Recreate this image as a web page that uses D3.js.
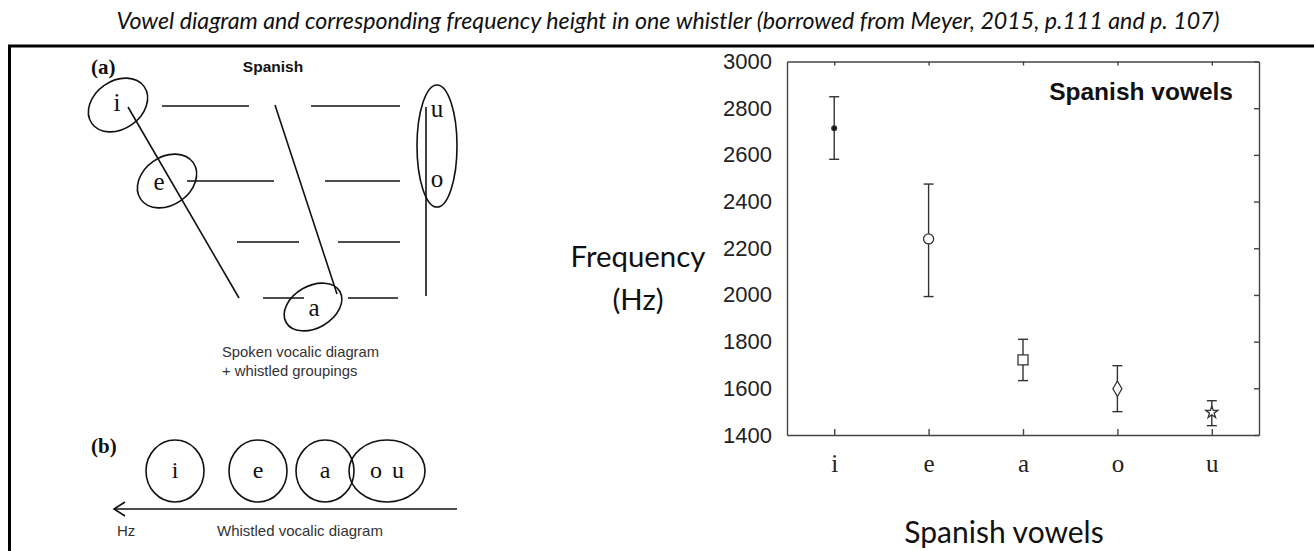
<!DOCTYPE html>
<html>
<head>
<meta charset="utf-8">
<script src="https://cdn.jsdelivr.net/npm/d3@7"></script>
<style>
    body { margin: 0; background: #fff; }
    svg { display: block; }
    .panel-text { font-family: "Liberation Sans", Arial, sans-serif; fill: #333; }
    .serif { font-family: "Liberation Serif", "Times New Roman", serif; fill: #111; }
</style>
</head>
<body>
<svg id="fig" width="1314" height="551"></svg>
<script>
"use strict";

// ---- data ----
const vowels = ["i", "e", "a", "o", "u"];
const meanHz = [2714, 2240, 1722, 1598, 1497];
const upperHz = [2849, 2475, 1810, 1697, 1547];
const lowerHz = [2581, 1993, 1633, 1500, 1440];
const markers = ["dot", "circle", "square", "diamond", "star"];
const yTicks = [1400, 1600, 1800, 2000, 2200, 2400, 2600, 2800, 3000];

// whistled groupings, panel (b)
const whistledGroups = ["i", "e", "a", "o u"];

const svg = d3.select("#fig");
const W = +svg.attr("width");

// title + frame
svg.append("text")
    .attr("x", W / 2 + 11)
    .attr("y", 29)
    .attr("text-anchor", "middle")
    .style("font-family", "Lato, 'Open Sans', sans-serif")
    .style("font-style", "italic")
    .style("font-size", "23.2px")
    .style("fill", "#111")
    .text("Vowel diagram and corresponding frequency height in one whistler (borrowed from Meyer, 2015, p.111 and p. 107)");

svg.append("line").attr("x1", 8).attr("x2", W).attr("y1", 46).attr("y2", 46)
    .style("stroke", "#000").style("stroke-width", 3);
svg.append("line").attr("x1", 9.5).attr("x2", 9.5).attr("y1", 45).attr("y2", 551)
    .style("stroke", "#000").style("stroke-width", 3);

// ---- left: vowel diagram (a) ----
const left = svg.append("g").attr("class", "left");
const ink = { stroke: "#111", "stroke-width": 1.6, fill: "none" };
const applyInk = sel => { Object.entries(ink).forEach(([k, v]) => sel.style(k, v)); return sel; };

left.append("text").attr("class", "serif").attr("x", 91).attr("y", 74)
    .style("font-size", "21px").style("font-weight", "bold").text("(a)");
left.append("text").attr("class", "panel-text").attr("x", 273).attr("y", 72)
    .attr("text-anchor", "middle").style("font-size", "15.5px").style("font-weight", "bold")
    .style("fill", "#111").text("Spanish");

// trapezoid strokes
const segs = [
    [128, 107, 239, 298], [275, 105, 337, 294], [426, 107, 426, 296],
    [162, 106, 249, 106], [311, 106, 400, 106],
    [187, 181, 274, 181], [325, 181, 400, 181],
    [237, 242, 299, 242], [338, 242, 400, 242],
    [263, 298, 304, 298], [348, 298, 398, 298]
];
applyInk(left.selectAll(".seg").data(segs).enter().append("line")
    .attr("class", "seg")
    .attr("x1", d => d[0]).attr("y1", d => d[1])
    .attr("x2", d => d[2]).attr("y2", d => d[3]));

const rings = [
    { cx: 118, cy: 105, rx: 32, ry: 24, rot: -35 },
    { cx: 167, cy: 181, rx: 32, ry: 24, rot: -35 },
    { cx: 313, cy: 307, rx: 31, ry: 21, rot: -30 },
    { cx: 437, cy: 146, rx: 20, ry: 61, rot: 0 }
];
applyInk(left.selectAll(".ring").data(rings).enter().append("ellipse")
    .attr("class", "ring")
    .attr("rx", d => d.rx).attr("ry", d => d.ry)
    .attr("transform", d => "translate(" + d.cx + "," + d.cy + ") rotate(" + d.rot + ")"));

const spoken = [["i", 117, 111], ["e", 159, 190], ["a", 314, 316], ["u", 437, 117], ["o", 437, 187]];
left.selectAll(".sv").data(spoken).enter().append("text")
    .attr("class", "serif sv")
    .attr("x", d => d[1]).attr("y", d => d[2])
    .attr("text-anchor", "middle")
    .style("font-size", "25px")
    .text(d => d[0]);

left.append("text").attr("class", "panel-text").attr("x", 222).attr("y", 357)
    .style("font-size", "14.8px").text("Spoken vocalic diagram");
left.append("text").attr("class", "panel-text").attr("x", 222).attr("y", 376)
    .style("font-size", "14.8px").text("+ whistled groupings");

// ---- left: whistled diagram (b) ----
left.append("text").attr("class", "serif").attr("x", 91).attr("y", 453)
    .style("font-size", "21px").style("font-weight", "bold").text("(b)");

const bubbles = [
    { cx: 175, rx: 29 }, { cx: 258, rx: 29 }, { cx: 325, rx: 29 }, { cx: 387, rx: 38 }
];
applyInk(left.selectAll(".bub").data(bubbles).enter().append("ellipse")
    .attr("class", "bub")
    .attr("cx", d => d.cx).attr("cy", 471)
    .attr("rx", d => d.rx).attr("ry", 31));
left.selectAll(".bl").data(whistledGroups).enter().append("text")
    .attr("class", "serif bl")
    .attr("x", (d, i) => bubbles[i].cx)
    .attr("y", 478)
    .attr("text-anchor", "middle")
    .style("font-size", "24px")
    .style("word-spacing", "4px")
    .text(d => d);

applyInk(left.append("line").attr("x1", 114).attr("x2", 457).attr("y1", 509).attr("y2", 509));
applyInk(left.append("path").attr("d", "M125,502 L114,509 L125,516"));
left.append("text").attr("class", "panel-text").attr("x", 117).attr("y", 536)
    .style("font-size", "15px").text("Hz");
left.append("text").attr("class", "panel-text").attr("x", 217).attr("y", 536)
    .style("font-size", "15px").text("Whistled vocalic diagram");

// ---- right: frequency plot ----
const plot = { left: 787, right: 1259, top: 61.5, bottom: 435 };

const x = d3.scalePoint().domain(vowels).range([plot.left, plot.right]).padding(0.5);
const y = d3.scaleLinear().domain([1400, 3000]).range([plot.bottom, plot.top]);

const axisColor = "#444";
const styleAxis = g => {
    g.selectAll("path, line").style("stroke", axisColor).style("stroke-width", 1.4);
    return g;
};

// left axis with labels
const gl = svg.append("g").attr("transform", "translate(" + plot.left + ",0)")
    .call(d3.axisLeft(y).tickValues(yTicks).tickFormat(d3.format("d"))
        .tickSize(0).tickPadding(15).tickSizeOuter(0));
styleAxis(gl);
gl.selectAll("text").style("font-family", "'Liberation Sans', Arial, sans-serif")
    .style("font-size", "22px").style("fill", "#222");

// right axis, inward ticks
styleAxis(svg.append("g").attr("transform", "translate(" + plot.right + ",0)")
    .call(d3.axisLeft(y).tickValues(yTicks).tickSize(5).tickSizeOuter(0).tickFormat("")));

// top axis, inward ticks
styleAxis(svg.append("g").attr("transform", "translate(0," + plot.top + ")")
    .call(d3.axisBottom(x).tickSize(4).tickSizeOuter(0).tickFormat("")));

// bottom axis, inward ticks + serif labels
styleAxis(svg.append("g").attr("transform", "translate(0," + plot.bottom + ")")
    .call(d3.axisTop(x).tickSize(6).tickSizeOuter(0).tickFormat("")));
const gb = svg.append("g").attr("transform", "translate(0," + plot.bottom + ")")
    .call(d3.axisBottom(x).tickSize(0).tickPadding(19));
gb.select(".domain").remove();
gb.selectAll("text").style("font-family", "'Liberation Serif', 'Times New Roman', serif")
    .style("font-size", "25px").style("fill", "#222");

// error bars
const rows = vowels.map((v, i) => ({ v: v, mean: meanHz[i], hi: upperHz[i], lo: lowerHz[i], m: markers[i] }));
const bars = svg.append("g").attr("class", "errorbars");
const cap = 5;
bars.selectAll(".stem").data(rows).enter().append("line")
    .attr("x1", d => x(d.v)).attr("x2", d => x(d.v))
    .attr("y1", d => y(d.hi)).attr("y2", d => y(d.lo));
bars.selectAll(".capHi").data(rows).enter().append("line")
    .attr("x1", d => x(d.v) - cap).attr("x2", d => x(d.v) + cap)
    .attr("y1", d => y(d.hi)).attr("y2", d => y(d.hi));
bars.selectAll(".capLo").data(rows).enter().append("line")
    .attr("x1", d => x(d.v) - cap).attr("x2", d => x(d.v) + cap)
    .attr("y1", d => y(d.lo)).attr("y2", d => y(d.lo));
bars.selectAll("line").style("stroke", "#333").style("stroke-width", 1.4);

const symbolOf = {
    dot: d3.symbol().type(d3.symbolCircle).size(18),
    circle: d3.symbol().type(d3.symbolCircle).size(80),
    square: d3.symbol().type(d3.symbolSquare).size(100),
    diamond: d3.symbol().type(d3.symbolDiamond).size(70),
    star: d3.symbol().type(d3.symbolStar).size(45)
};
svg.append("g").selectAll(".mk").data(rows).enter().append("path")
    .attr("class", "mk")
    .attr("transform", d => "translate(" + x(d.v) + "," + y(d.mean) + ")")
    .attr("d", d => symbolOf[d.m]())
    .style("fill", d => d.m === "dot" ? "#111" : "#fff")
    .style("stroke", "#333")
    .style("stroke-width", 1.3);

// in-plot title
svg.append("text").attr("x", 1233).attr("y", 100).attr("text-anchor", "end")
    .style("font-family", "'Liberation Sans', Arial, sans-serif")
    .style("font-weight", "bold").style("font-size", "24.5px").style("fill", "#111")
    .text("Spanish vowels");

// axis titles
const calib = "Lato, 'Open Sans', sans-serif";
svg.append("text").attr("x", 638).attr("y", 267).attr("text-anchor", "middle")
    .style("font-family", calib).style("font-size", "29.4px").style("fill", "#111").text("Frequency");
svg.append("text").attr("x", 638).attr("y", 310).attr("text-anchor", "middle")
    .style("font-family", calib).style("font-size", "29.4px").style("fill", "#111").text("(Hz)");
svg.append("text").attr("x", 1004).attr("y", 543).attr("text-anchor", "middle")
    .style("font-family", calib).style("font-size", "30px").style("fill", "#111").text("Spanish vowels");
</script>
</body>
</html>
